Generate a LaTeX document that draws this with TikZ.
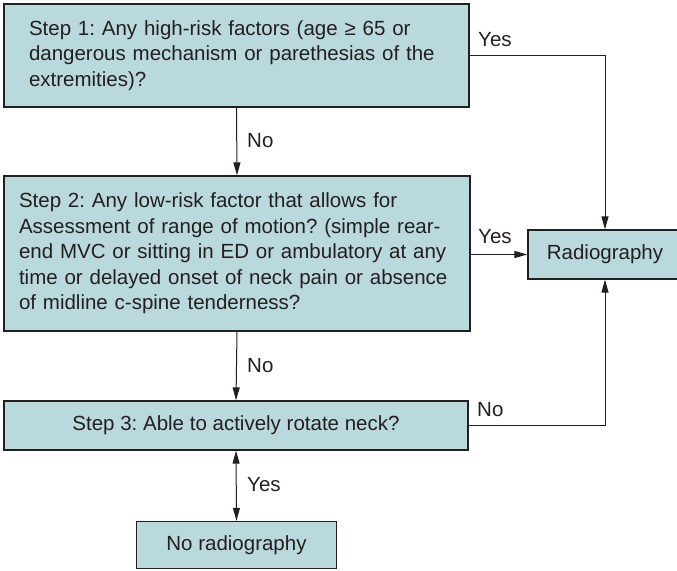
\documentclass[tikz,border=0pt]{standalone}
\usepackage{fontspec}
\setmainfont{Liberation Sans}
\usetikzlibrary{arrows.meta}
\frenchspacing
\definecolor{boxfill}{RGB}{186,217,221}
\definecolor{ink}{RGB}{35,31,32}
\tikzset{
  stepbox/.style={draw=ink, line width=1.3pt, fill=boxfill, rectangle, inner ysep=0pt,
     font=\fontsize{20.5}{25.5}\selectfont, text=ink},
  lbl/.style={font=\fontsize{20.5}{26}\selectfont, text=ink, anchor=west, inner sep=0pt},
  conn/.style={draw=ink, line width=1pt},
  arr/.style={conn, -{Triangle[length=13pt,width=7pt]}},
  darr/.style={conn, {Triangle[length=13pt,width=7pt]}-{Triangle[length=13pt,width=7pt]}},
}
\begin{document}
\begin{tikzpicture}[x=1pt,y=-1pt]
\useasboundingbox (0,0) rectangle (677,570);
\node[stepbox, minimum width=465pt, minimum height=103pt, text width=415pt, inner xsep=25pt, align=left] (b1) at (236.5,55.5)
  {\frenchspacing Step 1: Any high-risk factors (age ≥ 65 or\\dangerous mechanism or parethesias of the\\extremities)?};
\node[stepbox, minimum width=466pt, minimum height=155pt, text width=436pt, inner xsep=15pt, align=left] (b2) at (237,253.5)
  {\frenchspacing Step 2: Any low-risk factor that allows for\\Assessment of range of motion? (simple rear-\\end MVC or sitting in ED or ambulatory at any\\time or delayed onset of neck pain or absence\\of midline c-spine tenderness?};
\node[stepbox, minimum width=464pt, minimum height=49pt] (b3) at (236,425.5)
  {\frenchspacing Step 3: Able to actively rotate neck?};
\node[stepbox, minimum width=200pt, minimum height=47pt] (b4) at (236.5,545)
  {No radiography};
\node[stepbox, minimum width=154pt, minimum height=49pt] (rad) at (605,254.5)
  {Radiography};
\draw[arr] (b1.south) -- (b2.north);
\draw[arr] (b2.south) -- (b3.north);
\draw[darr] (b3.south) -- (b4.north);
\draw[arr] (b1.east) -| (rad.north);
\draw[arr] (b2.east |- rad.west) -- (rad.west);
\draw[arr] (b3.east) -| (rad.south);
\node[lbl] (l1) at (247,141) {No};
\node[lbl] (l2) at (247,366) {No};
\node[lbl] (l3) at (247,485) {Yes};
\node[lbl] (l4) at (478,40) {Yes};
\node[lbl] (l5) at (478,237) {Yes};
\node[lbl] (l6) at (477,410) {No};
\end{tikzpicture}
\end{document}
